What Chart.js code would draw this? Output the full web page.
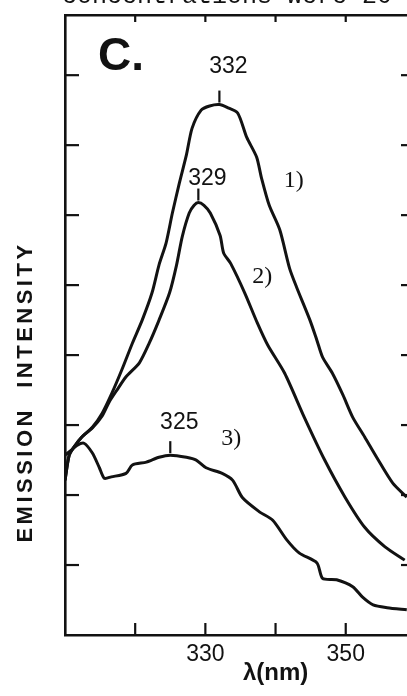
<!DOCTYPE html>
<html>
<head>
<meta charset="utf-8">
<script src="https://cdn.jsdelivr.net/npm/chart.js@4.4.1/dist/chart.umd.min.js"></script>
<style>
  html, body { margin: 0; padding: 0; background: #fff; overflow: hidden; width: 407px; height: 696px; }
  #wrap { position: absolute; left: 0; top: 0; width: 420px; height: 696px; }
  canvas { display: block; }
</style>
</head>
<body>
<div id="wrap"><canvas id="spectra" width="420" height="696" style="width:420px;height:696px"></canvas></div>
<script>
// Emission spectra, wavelength in nm vs. intensity (arbitrary units)
const lambda1 = [310.0,310.6,311.3,312.4,313.9,315.3,316.7,318.1,319.6,321.0,322.4,323.4,324.4,325.3,326.3,327.3,328.1,329.4,330.6,332.0,333.1,334.6,335.9,337.3,338.0,339.1,340.6,342.0,343.0,344.9,345.9,346.7,348.1,349.6,351.0,352.7,354.4,356.7,358.7];
const emission1 = [2.21,2.57,2.69,2.83,2.97,3.17,3.46,3.79,4.17,4.50,4.89,5.29,5.60,6.03,6.46,6.86,7.24,7.50,7.56,7.58,7.54,7.46,7.11,6.83,6.53,6.14,5.79,5.24,4.97,4.50,4.21,3.97,3.74,3.43,3.11,2.83,2.54,2.17,1.97];

const lambda2 = [310.0,310.6,311.3,312.4,313.9,315.3,316.3,317.4,318.7,320.6,322.0,323.4,324.9,325.9,326.7,327.7,328.4,329.0,329.8,330.7,332.1,332.6,333.6,335.6,337.4,338.9,341.3,344.1,347.0,349.9,352.7,355.6,358.4];
const emission2 = [2.21,2.57,2.69,2.83,2.96,3.13,3.33,3.50,3.69,3.89,4.17,4.50,4.89,5.29,5.69,6.03,6.14,6.18,6.14,6.03,5.71,5.46,5.31,4.89,4.46,4.14,3.74,3.11,2.50,1.97,1.54,1.26,1.07];

const lambda3 = [310.0,310.9,311.7,312.7,313.9,314.9,315.6,316.6,318.7,319.6,321.6,323.4,325.0,327.3,328.7,330.1,332.4,333.9,335.3,337.7,339.6,341.6,343.4,345.9,346.7,348.7,351.0,352.4,353.9,355.9,358.7];
const emission3 = [2.57,2.64,2.71,2.74,2.60,2.39,2.24,2.26,2.31,2.43,2.47,2.54,2.57,2.54,2.50,2.39,2.31,2.21,1.96,1.76,1.64,1.36,1.17,1.03,0.81,0.79,0.69,0.54,0.43,0.39,0.36];

const seriesNames = ['1)', '2)', '3)'];
const peakWavelengths = [332, 329, 325];

// axis ticks
const xTickValues = [320, 330, 340, 350];
const xTickLabels = [330, 350];
const yTickValues = [1, 2, 3, 4, 5, 6, 7, 8];

const INK = '#121212';
const SANS = "'Liberation Sans', Arial, Helvetica, sans-serif";
const SERIF = "'Liberation Serif', 'Times New Roman', serif";
const MONO = "'Liberation Mono', 'Courier New', monospace";

function toPoints(xs, ys) { return xs.map((v, i) => ({ x: v, y: ys[i] })); }

const decor = {
  id: 'decor',
  afterDraw(chart, args, opts) {
    const { ctx, chartArea: a } = chart;
    const x = chart.scales.x, y = chart.scales.y;
    const seg = (x1, y1, x2, y2) => { ctx.beginPath(); ctx.moveTo(x1, y1); ctx.lineTo(x2, y2); ctx.stroke(); };
    ctx.save();
    ctx.strokeStyle = INK;
    ctx.fillStyle = INK;

    // inward tick marks on all four sides
    ctx.lineWidth = 2.2;
    x.ticks.forEach(t => {
      const px = x.getPixelForValue(t.value);
      seg(px, a.bottom, px, a.bottom - 12);
      seg(px, a.top, px, a.top + 7);
    });
    y.ticks.forEach(t => {
      const py = y.getPixelForValue(t.value);
      seg(a.left, py, a.left + 14, py);
      seg(a.right, py, a.right - 10, py);
    });

    // peak markers with their wavelengths
    ctx.font = `23px ${SANS}`;
    ctx.textAlign = 'center';
    ctx.textBaseline = 'middle';
    peakWavelengths.forEach((p, i) => {
      const pt = chart.data.datasets[i].data.find(d => d.x === p);
      const px = x.getPixelForValue(pt.x);
      const py = y.getPixelForValue(pt.y);
      ctx.lineWidth = 2.2;
      seg(px, py - 2, px, py - 14);
      ctx.fillText(String(p), px + 9, py - 14 - opts.labelLift[i]);
    });

    // curve numbers
    ctx.font = `24px ${SERIF}`;
    seriesNames.forEach((n, i) => {
      const at = opts.nameAt[i];
      ctx.fillText(n, x.getPixelForValue(at[0]), y.getPixelForValue(at[1]));
    });

    // panel letter
    ctx.font = `bold 46px ${SANS}`;
    ctx.textAlign = 'left';
    ctx.textBaseline = 'alphabetic';
    ctx.fillText('C.', 98, 70);

    // x axis title
    ctx.font = `bold 24px ${SANS}`;
    ctx.textAlign = 'center';
    ctx.textBaseline = 'middle';
    ctx.fillText('\u03BB(nm)', x.getPixelForValue(340), 673);

    // y axis title
    ctx.save();
    ctx.translate(26, 392);
    ctx.rotate(-Math.PI / 2);
    ctx.font = `bold 22px ${SANS}`;
    if ('letterSpacing' in ctx) ctx.letterSpacing = '3.5px';
    ctx.fillText('EMISSION  INTENSITY', 0, 0);
    ctx.restore();

    // running text of the page above the figure
    ctx.font = `25px ${MONO}`;
    ctx.textAlign = 'left';
    ctx.textBaseline = 'alphabetic';
    ctx.fillText('concentrations were 20', 62, 3);

    ctx.restore();
  }
};

const lineStyle = {
  borderColor: INK,
  borderWidth: 3,
  pointRadius: 0,
  tension: 0.25,
  fill: false
};

new Chart(document.getElementById('spectra'), {
  type: 'line',
  data: {
    datasets: [
      { label: seriesNames[0], data: toPoints(lambda1, emission1), ...lineStyle },
      { label: seriesNames[1], data: toPoints(lambda2, emission2), ...lineStyle },
      { label: seriesNames[2], data: toPoints(lambda3, emission3), ...lineStyle }
    ]
  },
  options: {
    responsive: false,
    animation: false,
    events: [],
    layout: { padding: { left: 65, top: 15, right: 9, bottom: 0 } },
    plugins: {
      legend: { display: false },
      tooltip: { enabled: false },
      decor: {
        labelLift: [24, 10, 19],
        nameAt: [[342.6, 6.49], [338.1, 5.12], [333.7, 2.81]]
      }
    },
    scales: {
      x: {
        type: 'linear', position: 'bottom', min: 310, max: 359.3,
        afterBuildTicks: s => { s.ticks = xTickValues.map(v => ({ value: v })); },
        afterFit: s => { s.height = 61; },
        grid: { display: false, drawTicks: false },
        border: { display: true, color: INK, width: 2.6 },
        ticks: {
          padding: 6, color: INK, autoSkip: false, maxRotation: 0,
          font: { family: SANS, size: 23 },
          callback: v => xTickLabels.includes(v) ? String(v) : ''
        }
      },
      x2: {
        type: 'linear', position: 'top', min: 310, max: 359.3,
        afterFit: s => { s.height = 0; },
        grid: { display: false, drawTicks: false },
        border: { display: true, color: INK, width: 2.6 },
        ticks: { display: false }
      },
      y: {
        type: 'linear', position: 'left', min: 0, max: 8.86,
        afterBuildTicks: s => { s.ticks = yTickValues.map(v => ({ value: v })); },
        afterFit: s => { s.width = 0; },
        grid: { display: false, drawTicks: false },
        border: { display: true, color: INK, width: 2.6 },
        ticks: { display: false }
      },
      y2: {
        type: 'linear', position: 'right', min: 0, max: 8.86,
        afterFit: s => { s.width = 0; },
        grid: { display: false, drawTicks: false },
        border: { display: true, color: INK, width: 2.6 },
        ticks: { display: false }
      }
    }
  },
  plugins: [decor]
});
</script>
</body>
</html>
